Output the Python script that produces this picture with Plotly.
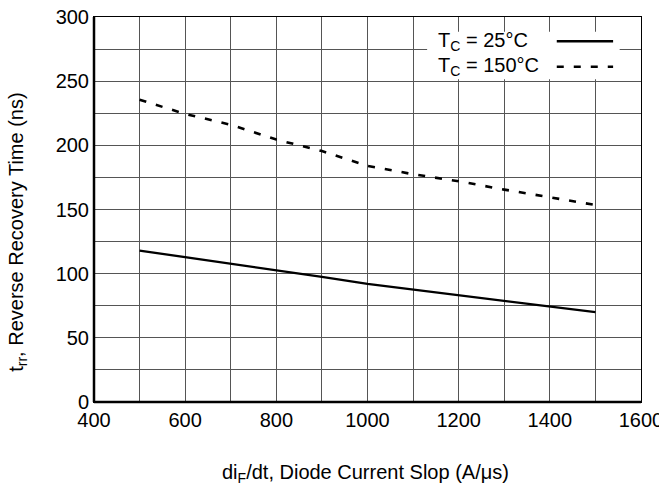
import plotly.graph_objects as go

# Data
di_dt = [500, 600, 700, 800, 900, 1000, 1100, 1200, 1300, 1400, 1500]
trr_25C = [118, 113, 108, 102.5, 97.5, 92, 87.5, 83, 79, 74.5, 70]
trr_150C = [235.5, 224.5, 216, 204.5, 195.5, 184, 177.5, 172, 165.5, 159.5, 153.5]

legend_labels = ["T<sub>C</sub> = 25°C", "T<sub>C</sub> = 150°C"]
x_title = "di<sub>F</sub>/dt, Diode Current Slop (A/μs)"
y_title = "t<sub>rr</sub>, Reverse Recovery Time (ns)"

FONT = "Liberation Sans, Arial, Helvetica, sans-serif"
GRID = "#555555"

fig = go.Figure()
fig.add_trace(go.Scatter(x=di_dt, y=trr_25C, mode="lines",
                         line=dict(color="black", width=2.3), showlegend=False))
fig.add_trace(go.Scatter(x=di_dt, y=trr_150C, mode="lines",
                         line=dict(color="black", width=2.6, dash="7px,10px"), showlegend=False))

fig.update_layout(
    width=659, height=485,
    margin=dict(l=94, r=18, t=17, b=83, autoexpand=False),
    paper_bgcolor="white", plot_bgcolor="white",
    font=dict(family=FONT, size=20, color="black"),
)
fig.update_xaxes(
    range=[400, 1600], dtick=200, tick0=400,
    showgrid=True, gridcolor=GRID, gridwidth=1,
    minor=dict(dtick=100, tick0=400, showgrid=True, gridcolor=GRID, gridwidth=1),
    showline=True, linecolor="black", linewidth=1, mirror=True,
    zeroline=False, ticks="", automargin=False, ticklabeloverflow="allow",
    tickfont=dict(size=20),
)
fig.update_yaxes(
    range=[0, 300], dtick=50, tick0=0,
    showgrid=True, gridcolor=GRID, gridwidth=1,
    minor=dict(dtick=25, tick0=0, showgrid=True, gridcolor=GRID, gridwidth=1),
    showline=True, linecolor="black", linewidth=1, mirror=True,
    zeroline=False, ticks="", automargin=False, ticklabeloverflow="allow",
    tickfont=dict(size=20),
)

# Axis titles as annotations for exact placement
fig.add_annotation(xref="paper", yref="paper", x=0.497, y=-0.185, text=x_title,
                   showarrow=False, xanchor="center", yanchor="middle",
                   font=dict(size=20, family=FONT, color="black"))
fig.add_annotation(xref="paper", yref="paper", x=-0.139, y=0.442, text=y_title,
                   showarrow=False, xanchor="center", yanchor="middle", textangle=-90,
                   font=dict(size=20, family=FONT, color="black"))

# Thicker left and bottom axis lines
fig.add_shape(type="line", xref="paper", yref="paper", x0=0, x1=0, y0=0, y1=1,
              line=dict(color="black", width=2.5))
fig.add_shape(type="line", xref="paper", yref="paper", x0=0, x1=1, y0=0, y1=0,
              line=dict(color="black", width=2.5))

# Manual legend (text left, line sample right)
fig.add_shape(type="rect", xref="paper", yref="paper", x0=0.609, x1=0.961, y0=0.838, y1=0.962,
              fillcolor="white", line=dict(width=0), layer="above")
rows_y = [0.937, 0.871]
dashes = ["solid", "7px,10px"]
for lab, yy, d in zip(legend_labels, rows_y, dashes):
    fig.add_annotation(xref="paper", yref="paper", x=0.625, y=yy, text=lab,
                       showarrow=False, xanchor="left", yanchor="middle",
                       font=dict(size=20, family=FONT, color="black"))
    fig.add_shape(type="line", xref="paper", yref="paper", x0=0.846, x1=0.949, y0=yy, y1=yy,
                  line=dict(color="black", width=2.5, dash=d), layer="above")

fig.write_html("out.html", config={"displayModeBar": False},
               post_script="document.body.style.margin='0';document.body.style.overflow='hidden';")
